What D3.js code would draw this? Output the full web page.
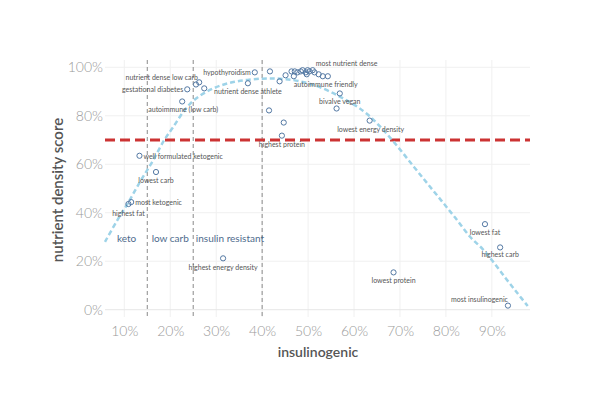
<!DOCTYPE html>
<html lang="en">
<head>
<meta charset="UTF-8"/>
<title>nutrient density vs insulinogenic</title>
<script src="https://d3js.org/d3.v7.min.js"></script>
<style>
  body { margin:0; background:#fff; }
  svg text { font-family: Lato, "Open Sans", sans-serif; }
</style>
</head>
<body>
<script>
// ---- data ----
var insulinogenic = [0.109,0.115,0.133,0.169,0.315,0.237,0.256,0.263,0.274,0.226,
                     0.384,0.369,0.417,0.438,0.451,0.464,0.469,0.471,0.477,0.484,
                     0.488,0.495,0.499,0.503,0.510,0.514,0.497,0.523,0.532,0.543,
                     0.569,0.562,0.634,0.415,0.447,0.443,0.885,0.918,0.686,0.935];
var nutrientDensity = [0.436,0.444,0.635,0.568,0.212,0.909,0.929,0.938,0.913,0.859,
                       0.979,0.934,0.983,0.942,0.967,0.983,0.963,0.983,0.979,0.983,
                       0.988,0.979,0.988,0.983,0.988,0.979,0.971,0.971,0.963,0.963,
                       0.892,0.830,0.780,0.822,0.772,0.718,0.353,0.257,0.154,0.017];
var pointNames = ["highest fat","most ketogenic","well formulated ketogenic","lowest carb","highest energy density",
                  "gestational diabetes","nutrient dense low carb","","","autoimmune (low carb)",
                  "hypothyroidism","nutrient dense athlete","","","","","autoimmune friendly","","","",
                  "","","","","most nutrient dense","","","","","",
                  "bivalve vegan","","lowest energy density","","","highest protein",
                  "lowest fat","highest carb","lowest protein","most insulinogenic"];

// polynomial trend line
var trendX = [0.058,0.085,0.108,0.135,0.162,0.187,0.206,0.23,0.252,0.28,0.31,0.34,0.368,0.40,0.425,0.45,0.48,0.52,0.571,0.62,0.657,0.694,0.73,0.76,0.791,0.82,0.853,0.88,0.902,0.93,0.955,0.978];
var trendY = [0.28,0.37,0.44,0.53,0.614,0.70,0.752,0.82,0.865,0.90,0.925,0.94,0.948,0.953,0.954,0.951,0.943,0.922,0.877,0.82,0.755,0.675,0.59,0.52,0.448,0.38,0.30,0.25,0.20,0.13,0.07,0.015];

var xTicks = [0.1,0.2,0.3,0.4,0.5,0.6,0.7,0.8,0.9];
var yTicks = [0,0.2,0.4,0.6,0.8,1.0];
var bandCuts = [0.15,0.25,0.40];
var bandNames = ["keto","low carb","insulin resistant"];
var bandCentre = [0.105,0.20,0.33];
var bandLevel = 0.295;
var targetLine = 0.70;

// label placement: [anchor, dx, dy]
var labelPos = {
  "highest fat":["middle",0,9],
  "most ketogenic":["start",4,0],
  "well formulated ketogenic":["start",4,0],
  "lowest carb":["middle",0,8],
  "highest energy density":["middle",0,9],
  "gestational diabetes":["end",-4,0],
  "nutrient dense low carb":["end",2,-7],
  "autoimmune (low carb)":["middle",1,8],
  "hypothyroidism":["end",-4,0],
  "nutrient dense athlete":["middle",0,8],
  "autoimmune friendly":["start",0,8],
  "most nutrient dense":["start",3,-7],
  "bivalve vegan":["middle",0,8],
  "lowest energy density":["middle",1,8],
  "highest protein":["middle",0,8],
  "lowest fat":["middle",0,8],
  "highest carb":["middle",0,7],
  "lowest protein":["middle",0,8],
  "most insulinogenic":["end",0,-7]
};

var w = 600, h = 399;
var pct = d3.format(".0%");

var xScale = d3.scaleLinear().domain([0.058,0.983]).range([105,530]);
var yScale = d3.scaleLinear().domain([-0.03,1.03]).range([317,60]);

var svg = d3.select("body").append("svg")
            .attr("width",w).attr("height",h);

// gridlines
svg.append("g").selectAll("line").data(xTicks).enter().append("line")
   .attr("x1",d=>xScale(d)).attr("x2",d=>xScale(d))
   .attr("y1",yScale.range()[1]).attr("y2",yScale.range()[0])
   .attr("stroke","#f0f0f0");
svg.append("g").selectAll("line").data(yTicks).enter().append("line")
   .attr("x1",xScale.range()[0]).attr("x2",xScale.range()[1])
   .attr("y1",d=>yScale(d)).attr("y2",d=>yScale(d))
   .attr("stroke",function(d){ return d===0 ? "#e6e6e6" : "#f0f0f0"; });

// axes (text only)
var xAxis = d3.axisBottom(xScale).tickValues(xTicks).tickFormat(pct).tickSize(0).tickPadding(9);
var gx = svg.append("g").attr("transform","translate(0,"+yScale.range()[0]+")").call(xAxis);
var yAxis = d3.axisLeft(yScale).tickValues(yTicks).tickFormat(pct).tickSize(0).tickPadding(2);
var gy = svg.append("g").attr("transform","translate("+xScale.range()[0]+",0)").call(yAxis);
[gx,gy].forEach(function(g){
  g.select(".domain").remove();
  g.selectAll("text").attr("font-family","Lato, sans-serif").attr("font-size",14)
   .attr("fill","#9a9a9a").attr("font-weight",300);
});

svg.append("text").attr("x",318).attr("y",357).attr("text-anchor","middle")
   .attr("font-size",14).attr("font-weight",600).attr("fill","#555").text("insulinogenic");
svg.append("text").attr("transform","translate(63,190) rotate(-90)").attr("text-anchor","middle")
   .attr("font-size",15).attr("font-weight",600).attr("fill","#555").text("nutrient density score");

// band cuts
svg.append("g").selectAll("line").data(bandCuts).enter().append("line")
   .attr("x1",d=>xScale(d)).attr("x2",d=>xScale(d))
   .attr("y1",yScale.range()[1]).attr("y2",yScale.range()[0])
   .attr("stroke","#8a8a8a").attr("stroke-width",1).attr("stroke-dasharray","4,3");

svg.append("g").selectAll("text").data(bandNames).enter().append("text")
   .attr("x",(d,i)=>xScale(bandCentre[i])).attr("y",yScale(bandLevel))
   .attr("text-anchor","middle").attr("dominant-baseline","central")
   .attr("font-size",10).attr("fill","#4e6b8c").text(d=>d);

// target line
svg.append("line")
   .attr("x1",xScale.range()[0]).attr("x2",xScale.range()[1])
   .attr("y1",yScale(targetLine)).attr("y2",yScale(targetLine))
   .attr("stroke","#cc3333").attr("stroke-width",3).attr("stroke-dasharray","10,5");

// trend line
var line = d3.line().x(d=>xScale(d[0])).y(d=>yScale(d[1])).curve(d3.curveCatmullRom);
svg.append("path").datum(d3.zip(trendX,trendY))
   .attr("d",line).attr("fill","none")
   .attr("stroke","#9ed3e8").attr("stroke-width",2.5).attr("stroke-dasharray","5,3");

// points
var pts = d3.range(insulinogenic.length);
svg.append("g").selectAll("circle").data(pts).enter().append("circle")
   .attr("cx",i=>xScale(insulinogenic[i])).attr("cy",i=>yScale(nutrientDensity[i]))
   .attr("r",2.6).attr("fill","none").attr("stroke","#5378a3").attr("stroke-width",1);

// labels
svg.append("g").selectAll("text").data(pts.filter(i=>pointNames[i]!=="")).enter().append("text")
   .attr("x",i=>xScale(insulinogenic[i])+labelPos[pointNames[i]][1])
   .attr("y",i=>yScale(nutrientDensity[i])+labelPos[pointNames[i]][2])
   .attr("text-anchor",i=>labelPos[pointNames[i]][0])
   .attr("dominant-baseline","central")
   .attr("font-size",7).attr("fill","#555")
   .text(i=>pointNames[i]);
</script>
</body>
</html>
